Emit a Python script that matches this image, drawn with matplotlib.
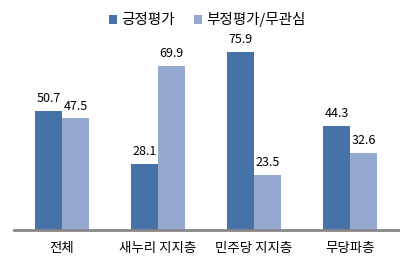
import matplotlib
matplotlib.use("Agg")
import matplotlib.pyplot as plt
import numpy as np

plt.rcParams['font.family'] = ['Noto Sans CJK KR', 'DejaVu Sans']

categories = ['전체', '새누리 지지층', '민주당 지지층', '무당파층']
series_names = ['긍정평가', '부정평가/무관심']
positive = [50.7, 28.1, 75.9, 44.3]
negative = [47.5, 69.9, 23.5, 32.6]
colors = ['#4573A7', '#95A9CF']

fig = plt.figure(figsize=(4.15, 2.7), dpi=100)
ax = fig.add_axes([14/415, 40.5/270, 384/415, 187/270])
x = np.arange(len(categories))
w = 0.28
b1 = ax.bar(x - w/2, positive, w, color=colors[0], label=series_names[0])
b2 = ax.bar(x + w/2, negative, w, color=colors[1], label=series_names[1])
for bars, vals in ((b1, positive), (b2, negative)):
    for r, v in zip(bars, vals):
        ax.text(r.get_x() + r.get_width()/2, v + 2.5, f'{v:.1f}', ha='center', va='bottom', fontsize=9)
ax.set_xlim(-0.5, len(categories) - 0.5)
ax.set_ylim(0, 80)
ax.set_yticks([])
ax.set_xticks(x)
ax.set_xticklabels(categories, fontsize=9.7)
ax.tick_params(axis='x', length=0, pad=8)
for s in ['top', 'right', 'left']:
    ax.spines[s].set_visible(False)
ax.spines['bottom'].set_color('#868686')
ax.spines['bottom'].set_linewidth(2)
fig.legend(handles=[b1, b2], labels=series_names, loc='center', bbox_to_anchor=(0.5, 1 - 20/270),
           ncol=2, frameon=False, fontsize=10.5, handlelength=0.55, handleheight=0.55,
           handletextpad=0.3, columnspacing=1.3)
fig.savefig('out.png', dpi=100)
